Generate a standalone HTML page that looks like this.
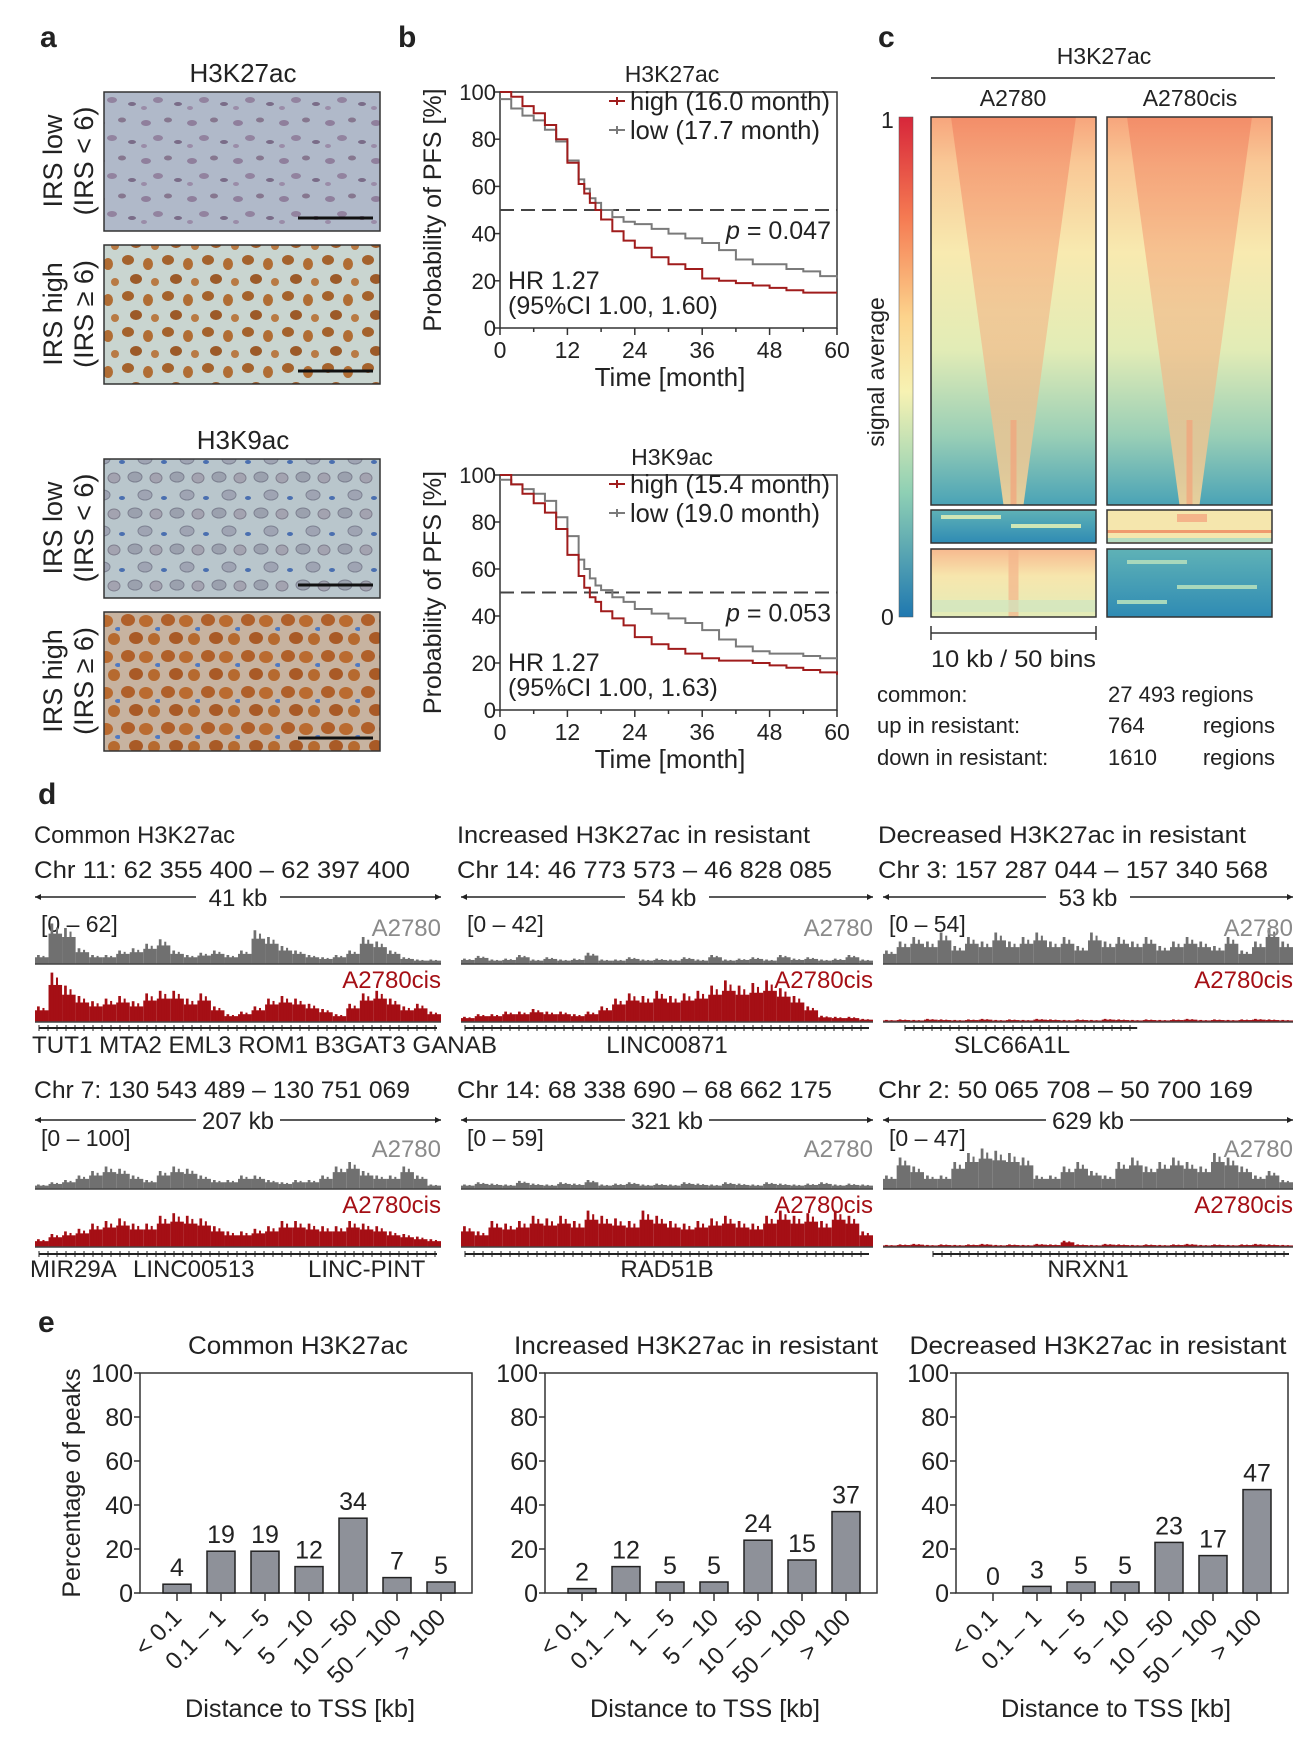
<!DOCTYPE html>
<html><head><meta charset="utf-8"><style>
html,body{margin:0;padding:0;background:#fff}
svg{display:block}
text{font-family:"Liberation Sans",Arial,sans-serif;fill:#222}
</style></head><body>
<svg id="fig" xmlns="http://www.w3.org/2000/svg" width="1300" height="1738" viewBox="0 0 1300 1738">
<defs>
<pattern id="pat1" width="46" height="38" patternUnits="userSpaceOnUse">
<rect width="46" height="38" fill="#b0b9c9"/>
<ellipse cx="8" cy="9" rx="5" ry="3" fill="#8f7f9c"/><ellipse cx="30" cy="6" rx="4" ry="2.5" fill="#86778f"/>
<ellipse cx="20" cy="24" rx="5" ry="3" fill="#92839f"/><ellipse cx="40" cy="28" rx="4" ry="2" fill="#7a6c88"/>
<ellipse cx="6" cy="32" rx="3" ry="2" fill="#9a8ca8"/></pattern>
<pattern id="pat2" width="40" height="36" patternUnits="userSpaceOnUse">
<rect width="40" height="36" fill="#c9d5d0"/>
<ellipse cx="8" cy="8" rx="6" ry="5" fill="#a4622c"/><ellipse cx="28" cy="12" rx="5" ry="6" fill="#b06d34"/>
<ellipse cx="16" cy="27" rx="6" ry="5" fill="#9c5a28"/><ellipse cx="35" cy="30" rx="4" ry="4" fill="#b87a44"/></pattern>
<pattern id="pat3" width="42" height="36" patternUnits="userSpaceOnUse">
<rect width="42" height="36" fill="#b9c6cc"/>
<ellipse cx="9" cy="9" rx="7" ry="5" fill="#9ba1ae" stroke="#7c8090"/><ellipse cx="30" cy="10" rx="6" ry="5" fill="#a3a3b0" stroke="#80808f"/>
<ellipse cx="19" cy="27" rx="7" ry="5" fill="#9fa4b3" stroke="#7d8292"/><ellipse cx="38" cy="30" rx="3" ry="2" fill="#4a6fb0"/></pattern>
<pattern id="pat4" width="40" height="36" patternUnits="userSpaceOnUse">
<rect width="40" height="36" fill="#c7b3a0"/>
<ellipse cx="8" cy="8" rx="7" ry="6" fill="#b0602a"/><ellipse cx="26" cy="9" rx="7" ry="6" fill="#ba6b30"/>
<ellipse cx="16" cy="26" rx="7" ry="6" fill="#a95a26"/><ellipse cx="34" cy="27" rx="6" ry="6" fill="#b66a2f"/>
<ellipse cx="38" cy="17" rx="3" ry="2" fill="#4e78c2"/></pattern>
<linearGradient id="cbar" x1="0" y1="0" x2="0" y2="1">
<stop offset="0" stop-color="#d7263a"/><stop offset="0.2" stop-color="#f57a52"/><stop offset="0.4" stop-color="#fcd38c"/>
<stop offset="0.55" stop-color="#f7f2b3"/><stop offset="0.75" stop-color="#8fd0b4"/><stop offset="1" stop-color="#1f78b0"/></linearGradient>
<linearGradient id="hmBase" x1="0" y1="0" x2="0" y2="1">
<stop offset="0" stop-color="#f7a57c"/><stop offset="0.12" stop-color="#f9c896"/><stop offset="0.35" stop-color="#f8eab0"/>
<stop offset="0.6" stop-color="#e2ecb6"/><stop offset="0.82" stop-color="#9acfb6"/><stop offset="1" stop-color="#4aa3b6"/></linearGradient>
<linearGradient id="hmTri" x1="0" y1="0" x2="0" y2="1">
<stop offset="0" stop-color="#f07a5a" stop-opacity="0.55"/><stop offset="0.5" stop-color="#f6a176" stop-opacity="0.45"/>
<stop offset="1" stop-color="#f7d59a" stop-opacity="0.9"/></linearGradient>
<linearGradient id="hmBlue" x1="0" y1="0" x2="0" y2="1">
<stop offset="0" stop-color="#5fb2b6"/><stop offset="1" stop-color="#2f8bb4"/></linearGradient>
<linearGradient id="hmWarm" x1="0" y1="0" x2="0" y2="1">
<stop offset="0" stop-color="#f7b98f"/><stop offset="0.4" stop-color="#f7e6ad"/><stop offset="1" stop-color="#e3ecb8"/></linearGradient>
</defs>

<text x="40" y="47" font-size="30" font-weight="bold">a</text>
<text x="398" y="47" font-size="30" font-weight="bold">b</text>
<text x="878" y="47" font-size="30" font-weight="bold">c</text>
<text x="38" y="804" font-size="30" font-weight="bold">d</text>
<text x="38" y="1332" font-size="30" font-weight="bold">e</text>

<g>
<text x="243" y="82" font-size="26" text-anchor="middle">H3K27ac</text>
<rect x="104" y="92" width="276" height="139" fill="url(#pat1)" stroke="#333" stroke-width="1.5"/>
<line x1="298" y1="218" x2="373" y2="218" stroke="#111" stroke-width="3"/>
<rect x="104" y="245" width="276" height="139" fill="url(#pat2)" stroke="#333" stroke-width="1.5"/>
<line x1="298" y1="371" x2="373" y2="371" stroke="#111" stroke-width="3"/>
<text x="243" y="449" font-size="26" text-anchor="middle">H3K9ac</text>
<rect x="104" y="459" width="276" height="139" fill="url(#pat3)" stroke="#333" stroke-width="1.5"/>
<line x1="298" y1="585" x2="373" y2="585" stroke="#111" stroke-width="3"/>
<rect x="104" y="612" width="276" height="139" fill="url(#pat4)" stroke="#333" stroke-width="1.5"/>
<line x1="298" y1="738" x2="373" y2="738" stroke="#111" stroke-width="3"/>
<g font-size="27" text-anchor="middle">
<text transform="translate(62,161) rotate(-90)">IRS low</text>
<text transform="translate(93,161) rotate(-90)">(IRS &lt; 6)</text>
<text transform="translate(62,314) rotate(-90)">IRS high</text>
<text transform="translate(93,314) rotate(-90)">(IRS ≥ 6)</text>
<text transform="translate(62,528) rotate(-90)">IRS low</text>
<text transform="translate(93,528) rotate(-90)">(IRS &lt; 6)</text>
<text transform="translate(62,681) rotate(-90)">IRS high</text>
<text transform="translate(93,681) rotate(-90)">(IRS ≥ 6)</text>
</g>
</g>

<g id="panelB"></g>
<g id="panelC"></g>
<g id="panelD"></g>
<g id="panelE"></g>
</svg>

<script>
// ---------- Panel b data ----------
var kmTimes = [0,2,4,6,8,10,12,14,15,16,17,18,20,22,24,27,30,33,36,39,42,45,48,51,54,57,60];
var km1High = [100,98,94,91,86,80,70,61,57,53,50,46,41,37,34,30,27,25,21,20,19,18,17,16,15,15,15];
var km1Low  = [97,93,90,88,84,79,71,63,59,55,53,50,47,45,44,42,40,38,36,33,29,27,27,25,24,22,21];
var km2High = [100,96,92,88,84,77,66,57,52,48,46,42,39,36,31,28,26,24,22,21,21,20,19,18,17,16,15];
var km2Low  = [98,96,94,92,89,82,74,64,60,56,53,51,48,46,43,41,39,37,34,30,27,25,24,24,23,22,22];
var kmXTicks = [0,12,24,36,48,60];
var kmYTicks = [0,20,40,60,80,100];

// ---------- Panel e data ----------
var distCats = ["< 0.1","0.1 – 1","1 – 5","5 – 10","10 – 50","50 – 100","> 100"];
var pctCommon = [4,19,19,12,34,7,5];
var pctUp = [2,12,5,5,24,15,37];
var pctDown = [0,3,5,5,23,17,47];
var pctTicks = [0,20,40,60,80,100];

// ---------- Panel d data (relative signal profiles) ----------
var trkR1C1Gray = [0.2,0.9,0.8,0.35,0.2,0.2,0.3,0.35,0.45,0.55,0.3,0.2,0.25,0.3,0.2,0.3,0.75,0.6,0.4,0.3,0.2,0.15,0.2,0.3,0.6,0.5,0.3,0.15,0.1,0.1];
var trkR1C1Red  = [0.3,0.95,0.7,0.5,0.4,0.45,0.5,0.4,0.55,0.6,0.6,0.45,0.55,0.3,0.15,0.2,0.3,0.45,0.5,0.45,0.35,0.25,0.15,0.35,0.55,0.6,0.45,0.3,0.35,0.2];
var trkR1C2Gray = [0.12,0.18,0.1,0.12,0.2,0.1,0.15,0.1,0.12,0.25,0.1,0.1,0.15,0.1,0.12,0.1,0.15,0.1,0.2,0.1,0.12,0.15,0.1,0.2,0.12,0.15,0.1,0.12,0.2,0.1];
var trkR1C2Red  = [0.1,0.15,0.15,0.2,0.2,0.25,0.2,0.2,0.15,0.2,0.3,0.45,0.55,0.5,0.6,0.5,0.55,0.6,0.7,0.8,0.7,0.75,0.8,0.65,0.5,0.3,0.12,0.1,0.1,0.06];
var trkR1C3Gray = [0.3,0.5,0.6,0.5,0.7,0.4,0.6,0.5,0.7,0.5,0.6,0.7,0.5,0.6,0.4,0.7,0.5,0.6,0.5,0.6,0.4,0.5,0.6,0.5,0.4,0.6,0.3,0.5,0.8,0.5];
var trkR1C3Red  = [0.04,0.05,0.04,0.06,0.05,0.04,0.05,0.06,0.04,0.05,0.04,0.06,0.05,0.04,0.05,0.04,0.06,0.05,0.04,0.05,0.04,0.05,0.06,0.04,0.05,0.04,0.05,0.06,0.05,0.04];
var trkR2C1Gray = [0.1,0.15,0.2,0.3,0.4,0.5,0.45,0.3,0.2,0.4,0.5,0.45,0.3,0.2,0.2,0.3,0.3,0.2,0.15,0.2,0.2,0.3,0.5,0.6,0.4,0.3,0.3,0.5,0.3,0.1];
var trkR2C1Red  = [0.15,0.25,0.3,0.35,0.45,0.5,0.55,0.45,0.45,0.6,0.65,0.6,0.55,0.4,0.3,0.3,0.35,0.4,0.5,0.5,0.45,0.4,0.4,0.5,0.45,0.4,0.3,0.25,0.2,0.15];
var trkR2C2Gray = [0.1,0.15,0.12,0.1,0.18,0.12,0.1,0.15,0.12,0.2,0.1,0.12,0.15,0.1,0.12,0.1,0.15,0.12,0.1,0.15,0.12,0.1,0.15,0.12,0.1,0.12,0.15,0.1,0.12,0.1];
var trkR2C2Red  = [0.4,0.3,0.5,0.45,0.5,0.6,0.55,0.6,0.5,0.7,0.6,0.55,0.5,0.7,0.6,0.5,0.45,0.5,0.55,0.6,0.5,0.45,0.6,0.7,0.6,0.65,0.5,0.7,0.6,0.3];
var trkR2C3Gray = [0.3,0.7,0.5,0.3,0.3,0.6,0.8,0.9,0.85,0.8,0.7,0.3,0.3,0.5,0.6,0.4,0.3,0.6,0.7,0.5,0.6,0.7,0.6,0.5,0.8,0.7,0.5,0.3,0.4,0.2];
var trkR2C3Red  = [0.04,0.05,0.06,0.04,0.05,0.04,0.05,0.06,0.04,0.05,0.04,0.06,0.05,0.12,0.05,0.04,0.06,0.05,0.04,0.05,0.04,0.05,0.06,0.04,0.05,0.04,0.05,0.06,0.05,0.04];

var NS = "http://www.w3.org/2000/svg";
function mk(tag, attrs, parent, txt){
  var e = document.createElementNS(NS, tag);
  for (var k in attrs) e.setAttribute(k, attrs[k]);
  if (txt !== undefined) e.textContent = txt;
  parent.appendChild(e);
  return e;
}

// ---------- Panel b ----------
var pB = document.getElementById('panelB');
function kmPlot(top, bottom, title, hi, lo, legHi, legLo, pTxt, ci, idx){
  var x0 = 500, x1 = 837;
  function sx(t){ return x0 + (t/60)*(x1-x0); }
  function sy(v){ return bottom - (v/100)*(bottom-top); }
  var g = mk('g', {}, pB);
  
  
  var t = mk('text', {x:672, y:top-10, 'font-size':23, 'text-anchor':'middle'}, g, title);
  
  
  var fr = mk('rect', {x:x0, y:top, width:x1-x0, height:bottom-top, fill:'none', stroke:'#333', 'stroke-width':1.5}, g);
  
  
  kmYTicks.forEach(function(v){
    mk('line', {x1:x0-6, x2:x0, y1:sy(v), y2:sy(v), stroke:'#333', 'stroke-width':1.5}, g);
    var tl = mk('text', {x:x0-4, y:sy(v)+8, 'font-size':22, 'text-anchor':'end'}, g, v);
    
    
  });
  for (var m=0; m<=60; m+=6){
    mk('line', {x1:sx(m), x2:sx(m), y1:bottom, y2:bottom+(m%12===0?7:4), stroke:'#333', 'stroke-width':1.5}, g);
  }
  kmXTicks.forEach(function(v){
    var tl = mk('text', {x:sx(v), y:bottom+30, 'font-size':23, 'text-anchor':'middle'}, g, v);
    
    
  });
  var xl = mk('text', {x:670, y:bottom+58, 'font-size':26, 'text-anchor':'middle'}, g, 'Time [month]');
  
  
  var yl = mk('text', {transform:'translate(441,'+((top+bottom)/2)+') rotate(-90)', 'font-size':25, 'text-anchor':'middle'}, g, 'Probability of PFS [%]');
  
  
  var dl = mk('line', {x1:x0, x2:x1, y1:sy(50), y2:sy(50), stroke:'#444', 'stroke-width':2, 'stroke-dasharray':'14,7'}, g);
  
  
  function stepPath(vals){
    var d = 'M'+sx(kmTimes[0])+','+sy(vals[0]);
    for (var i=1;i<kmTimes.length;i++){ d += ' H'+sx(kmTimes[i])+' V'+sy(vals[i]); }
    return d;
  }
  var pl = mk('path', {d:stepPath(lo), fill:'none', stroke:'#7a7a7a', 'stroke-width':2}, g);
  
  
  var ph = mk('path', {d:stepPath(hi), fill:'none', stroke:'#a01c1c', 'stroke-width':2}, g);
  
  
  var lg1 = mk('g', {}, pB);
  
  
  mk('line', {x1:609, x2:625, y1:top+9, y2:top+9, stroke:'#a01c1c', 'stroke-width':2}, lg1);
  mk('line', {x1:617, x2:617, y1:top+5, y2:top+13, stroke:'#a01c1c', 'stroke-width':2}, lg1);
  mk('text', {x:630, y:top+18, 'font-size':26, textLength:200}, lg1, legHi);
  var lg2 = mk('g', {}, pB);
  
  
  mk('line', {x1:609, x2:625, y1:top+38, y2:top+38, stroke:'#7a7a7a', 'stroke-width':2}, lg2);
  mk('line', {x1:617, x2:617, y1:top+34, y2:top+42, stroke:'#7a7a7a', 'stroke-width':2}, lg2);
  mk('text', {x:630, y:top+47, 'font-size':26, textLength:190}, lg2, legLo);
  var pt = mk('text', {x:831, y:sy(50)+29, 'font-size':25, 'text-anchor':'end'}, g);
  
  
  mk('tspan', {'font-style':'italic'}, pt, 'p');
  mk('tspan', {}, pt, ' = ' + pTxt);
  var hr = mk('text', {x:508, y:sy(20)+8, 'font-size':25}, g, 'HR 1.27');
  
  
  var cit = mk('text', {x:508, y:sy(20)+33, 'font-size':25}, g, ci);
  
  
}
kmPlot(92, 328, 'H3K27ac', km1High, km1Low, 'high (16.0 month)', 'low (17.7 month)', '0.047', '(95%CI 1.00, 1.60)', 1);
kmPlot(475, 710, 'H3K9ac', km2High, km2Low, 'high (15.4 month)', 'low (19.0 month)', '0.053', '(95%CI 1.00, 1.63)', 2);

// ---------- Panel c ----------
var pC = document.getElementById('panelC');
(function(){
  var ht = mk('text', {x:1104, y:64, 'font-size':23, 'text-anchor':'middle'}, pC, 'H3K27ac');
  
  
  mk('line', {x1:931, x2:1275, y1:78, y2:78, stroke:'#222', 'stroke-width':1.5}, pC);
  var c1 = mk('text', {x:1013, y:106, 'font-size':23, 'text-anchor':'middle'}, pC, 'A2780');
  
  
  var c2 = mk('text', {x:1190, y:106, 'font-size':23, 'text-anchor':'middle'}, pC, 'A2780cis');
  
  
  var cb = mk('rect', {x:899, y:117, width:14, height:500, fill:'url(#cbar)', stroke:'#555', 'stroke-width':0.5}, pC);
  
  
  mk('text', {x:881, y:128, 'font-size':23}, pC, '1');
  mk('text', {x:881, y:625, 'font-size':23}, pC, '0');
  var sa = mk('text', {transform:'translate(884,372) rotate(-90)', 'font-size':23, 'text-anchor':'middle'}, pC, 'signal average');
  
  
  var cols = [931, 1107], w = 165;
  cols.forEach(function(x, ci){
    var m = mk('g', {}, pC);
    
    
    mk('rect', {x:x, y:117, width:w, height:388, fill:'url(#hmBase)'}, m);
    mk('polygon', {points:(x+20)+',117 '+(x+w-20)+',117 '+(x+w/2+10)+',505 '+(x+w/2-10)+',505', fill:'url(#hmTri)'}, m);
    mk('rect', {x:x+w/2-3, y:420, width:6, height:85, fill:'#f2a27a', opacity:0.7}, m);
    mk('rect', {x:x, y:117, width:w, height:388, fill:'none', stroke:'#333', 'stroke-width':1.5}, m);
    var b2 = mk('g', {}, pC);
    
    
    mk('rect', {x:x, y:510, width:w, height:33, fill: ci===0 ? 'url(#hmBlue)' : '#f5e6ad'}, b2);
    if (ci===0){
      mk('rect', {x:x+10, y:515, width:60, height:4, fill:'#cfe6b6'}, b2);
      mk('rect', {x:x+80, y:524, width:70, height:4, fill:'#cfe6b6'}, b2);
    } else {
      mk('rect', {x:x, y:530, width:w, height:3, fill:'#f09a6e'}, b2);
      mk('rect', {x:x+70, y:514, width:30, height:8, fill:'#f4b48a'}, b2);
      mk('rect', {x:x, y:538, width:w, height:4, fill:'#b6dcc0'}, b2);
    }
    mk('rect', {x:x, y:510, width:w, height:33, fill:'none', stroke:'#333', 'stroke-width':1.5}, b2);
    var b3 = mk('g', {}, pC);
    
    
    mk('rect', {x:x, y:549, width:w, height:68, fill: ci===0 ? 'url(#hmWarm)' : 'url(#hmBlue)'}, b3);
    if (ci===0){
      mk('rect', {x:x+w/2-5, y:549, width:10, height:68, fill:'#f3b48a', opacity:0.7}, b3);
      mk('rect', {x:x, y:600, width:w, height:12, fill:'#cfe6c0', opacity:0.7}, b3);
    } else {
      mk('rect', {x:x+20, y:560, width:60, height:4, fill:'#a8d8bc'}, b3);
      mk('rect', {x:x+70, y:585, width:80, height:4, fill:'#a8d8bc'}, b3);
      mk('rect', {x:x+10, y:600, width:50, height:4, fill:'#a8d8bc'}, b3);
    }
    mk('rect', {x:x, y:549, width:w, height:68, fill:'none', stroke:'#333', 'stroke-width':1.5}, b3);
  });
  var sb = mk('g', {}, pC);
  
  
  mk('line', {x1:931, x2:1096, y1:633, y2:633, stroke:'#333', 'stroke-width':1.5}, sb);
  mk('line', {x1:931, x2:931, y1:626, y2:640, stroke:'#333', 'stroke-width':1.5}, sb);
  mk('line', {x1:1096, x2:1096, y1:626, y2:640, stroke:'#333', 'stroke-width':1.5}, sb);
  mk('text', {x:931, y:667, 'font-size':24, textLength:165}, sb, '10 kb / 50 bins');
  var rows = [['common:','27 493 regions',null,702],['up in resistant:','764','regions',733],['down in resistant:','1610','regions',765]];
  rows.forEach(function(r){
    var rg = mk('g', {}, pC);
    
    
    mk('text', {x:877, y:r[3], 'font-size':22}, rg, r[0]);
    mk('text', {x:1108, y:r[3], 'font-size':22}, rg, r[1]);
    if (r[2]) mk('text', {x:1275, y:r[3], 'font-size':22, 'text-anchor':'end'}, rg, r[2]);
  });
})();

// ---------- Panel d ----------
var pD = document.getElementById('panelD');
var trackCols = [{x:35,w:406,tx:34},{x:461,w:412,tx:457},{x:883,w:410,tx:878}];
var row1 = {head:843, chr:878, kb:897, rng:932, gBase:964, gLab:936, rBase:1022, rLab:988, gene:1028, names:1053};
var row2 = {chr:1098, kb:1120, rng:1146, gBase:1189, gLab:1157, rBase:1247, rLab:1213, gene:1254, names:1277};
var headings = ['Common H3K27ac','Increased H3K27ac in resistant','Decreased H3K27ac in resistant'];
var headLens = [201,353,368];
var chrs1 = ['Chr 11: 62 355 400 – 62 397 400','Chr 14: 46 773 573 – 46 828 085','Chr 3: 157 287 044 – 157 340 568'];
var chrs2 = ['Chr 7: 130 543 489 – 130 751 069','Chr 14: 68 338 690 – 68 662 175','Chr 2: 50 065 708 – 50 700 169'];
var chrLens1 = [376,375,390], chrLens2 = [376,375,375];
var kbs1 = ['41 kb','54 kb','53 kb'], kbs2 = ['207 kb','321 kb','629 kb'];
var rng1 = ['[0 – 62]','[0 – 42]','[0 – 54]'], rng2 = ['[0 – 100]','[0 – 59]','[0 – 47]'];
var grayTr1 = [trkR1C1Gray,trkR1C2Gray,trkR1C3Gray], redTr1 = [trkR1C1Red,trkR1C2Red,trkR1C3Red];
var grayTr2 = [trkR2C1Gray,trkR2C2Gray,trkR2C3Gray], redTr2 = [trkR2C1Red,trkR2C2Red,trkR2C3Red];

function drawTrack(vals, x, w, base, h, color, name){
  var g = mk('g', {}, pD);
  
  
  var bw = w / vals.length;
  vals.forEach(function(v, i){
    var bh = v * h;
    mk('rect', {x:x + i*bw, y:base-bh*0.75, width:bw, height:bh*0.75, fill:color}, g);
    mk('rect', {x:x + i*bw + bw*0.15, y:base-bh, width:bw*0.2, height:bh, fill:color}, g);
    mk('rect', {x:x + i*bw + bw*0.55, y:base-bh*0.9, width:bw*0.15, height:bh*0.9, fill:color}, g);
  });
  mk('line', {x1:x, x2:x+w, y1:base, y2:base, stroke:'#444', 'stroke-width':1.5}, g);
}
function txt(parent, attrs, s, name){
  var t = mk('text', attrs, parent, s);
  
  
  return t;
}
function drawRow(r, chrs, chrLens, kbs, rngs, grays, reds, rowIdx){
  trackCols.forEach(function(c, i){
    if (r.head) txt(pD, {x:c.tx, y:r.head, 'font-size':24, textLength:headLens[i]}, headings[i], 'track-heading');
    txt(pD, {x:c.tx, y:r.chr, 'font-size':24, textLength:chrLens[i]}, chrs[i], 'chromosome-coordinates');
    var cx = c.x + c.w/2;
    mk('line', {x1:c.x, x2:cx-42, y1:r.kb, y2:r.kb, stroke:'#222', 'stroke-width':1.5}, pD);
    mk('line', {x1:cx+42, x2:c.x+c.w, y1:r.kb, y2:r.kb, stroke:'#222', 'stroke-width':1.5}, pD);
    mk('polygon', {points:c.x+','+r.kb+' '+(c.x+6)+','+(r.kb-3)+' '+(c.x+6)+','+(r.kb+3), fill:'#222'}, pD);
    mk('polygon', {points:(c.x+c.w)+','+r.kb+' '+(c.x+c.w-6)+','+(r.kb-3)+' '+(c.x+c.w-6)+','+(r.kb+3), fill:'#222'}, pD);
    txt(pD, {x:cx, y:r.kb+9, 'font-size':24, 'text-anchor':'middle'}, kbs[i], 'region-size-label');
    txt(pD, {x:c.x+6, y:r.rng, 'font-size':23}, rngs[i], 'track-range-label');
    drawTrack(grays[i], c.x, c.w, r.gBase, 45, '#707070', 'track-a2780-r'+rowIdx+'-c'+(i+1));
    drawTrack(reds[i], c.x, c.w, r.rBase, 52, '#a50f15', 'track-a2780cis-r'+rowIdx+'-c'+(i+1));
    txt(pD, {x:c.x+c.w, y:r.gLab, 'font-size':24, 'text-anchor':'end', style:'fill:#8a8a8a'}, 'A2780', 'track-label-a2780');
    txt(pD, {x:c.x+c.w, y:r.rLab, 'font-size':24, 'text-anchor':'end', style:'fill:#a50f15'}, 'A2780cis', 'track-label-a2780cis');
    var gg = mk('g', {}, pD);
    
    
    var gs = c.x + 4, ge = c.x + c.w - 4;
    if (i===2 && rowIdx===1){ gs = c.x+22; ge = c.x+c.w*0.62; }
    if (i===2 && rowIdx===2){ gs = c.x+50; }
    mk('line', {x1:gs, x2:ge, y1:r.gene, y2:r.gene, stroke:'#222', 'stroke-width':2}, gg);
    for (var t=gs; t<ge; t+=9) mk('line', {x1:t, x2:t, y1:r.gene-3, y2:r.gene+3, stroke:'#222', 'stroke-width':1}, gg);
  });
}
drawRow(row1, chrs1, chrLens1, kbs1, rng1, grayTr1, redTr1, 1);
drawRow(row2, chrs2, chrLens2, kbs2, rng2, grayTr2, redTr2, 2);
txt(pD, {x:32, y:row1.names, 'font-size':24, textLength:465}, 'TUT1 MTA2 EML3 ROM1 B3GAT3 GANAB', 'gene-names');
txt(pD, {x:667, y:row1.names, 'font-size':24, 'text-anchor':'middle'}, 'LINC00871', 'gene-names');
txt(pD, {x:1012, y:row1.names, 'font-size':24, 'text-anchor':'middle'}, 'SLC66A1L', 'gene-names');
txt(pD, {x:30, y:row2.names, 'font-size':24}, 'MIR29A', 'gene-names');
txt(pD, {x:133, y:row2.names, 'font-size':24}, 'LINC00513', 'gene-names');
txt(pD, {x:308, y:row2.names, 'font-size':24}, 'LINC-PINT', 'gene-names');
txt(pD, {x:667, y:row2.names, 'font-size':24, 'text-anchor':'middle'}, 'RAD51B', 'gene-names');
txt(pD, {x:1088, y:row2.names, 'font-size':24, 'text-anchor':'middle'}, 'NRXN1', 'gene-names');

// ---------- Panel e ----------
var pE = document.getElementById('panelE');
var barPlots = [{x:140, vals:pctCommon, title:'Common H3K27ac', tx:298, tl:220, key:'common'},
                {x:545, vals:pctUp, title:'Increased H3K27ac in resistant', tx:696, tl:364, key:'up'},
                {x:956, vals:pctDown, title:'Decreased H3K27ac in resistant', tx:1098, tl:377, key:'down'}];
var eTop = 1373, eBot = 1593, eW = 332;
barPlots.forEach(function(p, pi){
  var g = mk('g', {}, pE);
  
  
  function sy(v){ return eBot - v/100*(eBot-eTop); }
  var step = 44, first = p.x + 37;
  function sx(i){ return first + i*step; }
  var tt = mk('text', {x:p.tx, y:1354, 'font-size':25, 'text-anchor':'middle', textLength:p.tl}, g, p.title);
  
  
  mk('rect', {x:p.x, y:eTop, width:eW, height:eBot-eTop, fill:'none', stroke:'#333', 'stroke-width':1.5}, g);
  pctTicks.forEach(function(v){
    mk('line', {x1:p.x-6, x2:p.x, y1:sy(v), y2:sy(v), stroke:'#333', 'stroke-width':1.5}, g);
    var tl = mk('text', {x:p.x-7, y:sy(v)+9, 'font-size':25, 'text-anchor':'end'}, g, v);
    
    
  });
  p.vals.forEach(function(v, i){
    var b = mk('rect', {x:sx(i)-14, y:sy(v), width:28, height:eBot-sy(v), fill:'#8e9199', stroke:'#222', 'stroke-width':1.5}, g);
    
    
    var vl = mk('text', {x:sx(i), y:sy(v)-8, 'font-size':25, 'text-anchor':'middle'}, g, v);
    
    
    mk('line', {x1:sx(i), x2:sx(i), y1:eBot, y2:eBot+8, stroke:'#333', 'stroke-width':1.5}, g);
    var cl = mk('text', {transform:'translate('+(sx(i)+6)+','+(eBot+26)+') rotate(-45)', 'font-size':24, 'text-anchor':'end'}, g, distCats[i]);
    
    
  });
  var xt = mk('text', {x:p.x+eW/2-6, y:1717, 'font-size':25, 'text-anchor':'middle', textLength:230}, g, 'Distance to TSS [kb]');
  
  
  if (pi===0){
    var yt = mk('text', {transform:'translate(80,1483) rotate(-90)', 'font-size':25, 'text-anchor':'middle'}, g, 'Percentage of peaks');
    
    
  }
});

// squeeze/stretch glyphs rather than letter-spacing for fitted text
var fitted = document.querySelectorAll('text[textLength]');
for (var fi = 0; fi < fitted.length; fi++) fitted[fi].setAttribute('lengthAdjust', 'spacingAndGlyphs');
</script>
</body></html>
